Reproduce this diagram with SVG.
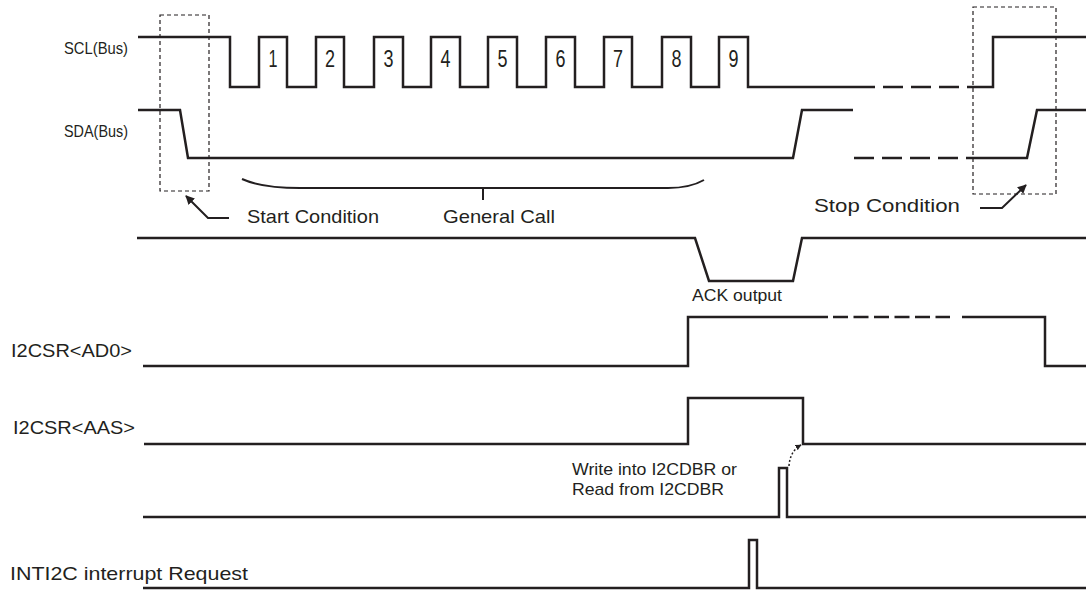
<svg xmlns="http://www.w3.org/2000/svg" width="1086" height="590" viewBox="0 0 1086 590">
<style>
.sig{fill:none;stroke:#231f20;stroke-width:2.5;stroke-linejoin:miter}
.dash{fill:none;stroke:#231f20;stroke-width:2.5;stroke-dasharray:20 8}
.dash2{fill:none;stroke:#231f20;stroke-width:2.5;stroke-dasharray:15 5.5}
.box{fill:none;stroke:#231f20;stroke-width:1.2;stroke-dasharray:4 3}
.thin{fill:none;stroke:#231f20;stroke-width:2}
.dot{fill:none;stroke:#231f20;stroke-width:1.5;stroke-dasharray:2 2}
text{font-family:"Liberation Sans",Arial,sans-serif;fill:#231f20}
.num{font-size:23px;text-anchor:middle}
.cond{font-size:17px}
.lbl{font-size:19px}
.sm{font-size:17px}
</style>
<defs>
<marker id="ah" viewBox="0 0 10 10" refX="9" refY="5" markerWidth="9" markerHeight="9" markerUnits="userSpaceOnUse" orient="auto">
<path d="M0,0 L10,5 L0,10 Z" fill="#231f20"/>
</marker>
<marker id="ahs" viewBox="0 0 10 10" refX="9" refY="5" markerWidth="6" markerHeight="6" markerUnits="userSpaceOnUse" orient="auto">
<path d="M0,0 L10,5 L0,10 Z" fill="#231f20"/>
</marker>
</defs>
<g id="labels">
<text class="cond" x="64" y="54" textLength="64" lengthAdjust="spacingAndGlyphs">SCL(Bus)</text>
<text class="cond" x="64" y="137" textLength="64" lengthAdjust="spacingAndGlyphs">SDA(Bus)</text>
<text class="lbl" x="11" y="357" textLength="121" lengthAdjust="spacingAndGlyphs">I2CSR&lt;AD0&gt;</text>
<text class="lbl" x="13" y="434" textLength="122" lengthAdjust="spacingAndGlyphs">I2CSR&lt;AAS&gt;</text>
<text class="lbl" x="10" y="580" font-size="21" textLength="238" lengthAdjust="spacingAndGlyphs">INTI2C interrupt Request</text>
</g>
<g id="scl">
<path class="sig" d="M138,37 H230 V87 H259 V37 H287 V87 H316 V37 H344 V87 H374 V37 H403 V87 H431 V37 H460 V87 H488 V37 H517 V87 H546 V37 H575 V87 H604 V37 H632 V87 H662 V37 H691 V87 H719 V37 H748 V87 H855"/>
<path class="dash" d="M855,87 H973"/>
<path class="sig" d="M973,87 H993 V37 H1086"/>
<text class="num" x="273" y="67" textLength="9" lengthAdjust="spacingAndGlyphs">1</text>
<text class="num" x="330" y="67" textLength="10" lengthAdjust="spacingAndGlyphs">2</text>
<text class="num" x="388.5" y="67" textLength="10" lengthAdjust="spacingAndGlyphs">3</text>
<text class="num" x="445.5" y="67" textLength="10" lengthAdjust="spacingAndGlyphs">4</text>
<text class="num" x="502.5" y="67" textLength="10" lengthAdjust="spacingAndGlyphs">5</text>
<text class="num" x="560.5" y="67" textLength="10" lengthAdjust="spacingAndGlyphs">6</text>
<text class="num" x="618" y="67" textLength="10" lengthAdjust="spacingAndGlyphs">7</text>
<text class="num" x="676.5" y="67" textLength="10" lengthAdjust="spacingAndGlyphs">8</text>
<text class="num" x="733.5" y="67" textLength="10" lengthAdjust="spacingAndGlyphs">9</text>
</g>
<g id="sda">
<path class="sig" d="M138,110 H180 L188,158 H793 L802,110 H853"/>
<path class="dash" d="M854,158 H973"/>
<path class="sig" d="M973,158 H1027 L1037,110 H1086"/>
</g>
<g id="start-condition">
<rect class="box" x="160" y="15" width="49" height="176"/>
<text class="lbl" x="247" y="223" textLength="132" lengthAdjust="spacingAndGlyphs">Start Condition</text>
</g>
<g id="general-call">
<path class="thin" d="M242,179 Q262,188 300,188 H668 Q690,188 704,180 M483,188 V200"/>
<text class="lbl" x="443" y="223" textLength="112" lengthAdjust="spacingAndGlyphs">General Call</text>
</g>
<g id="stop-condition">
<rect class="box" x="973" y="7" width="83" height="187"/>
<text class="lbl" x="814" y="212" font-size="22" textLength="146" lengthAdjust="spacingAndGlyphs">Stop Condition</text>
</g>
<g id="ack">
<path class="sig" d="M137,238 H695 L709,281 H793 L802,238 H1086"/>
<text class="sm" x="692" y="301" textLength="90" lengthAdjust="spacingAndGlyphs">ACK output</text>
</g>
<g id="ad0">
<path class="sig" d="M143,366 H688 V317 H828"/>
<path class="dash2" d="M833,317 H950"/>
<path class="sig" d="M962,317 H1045 V366 H1086"/>
</g>
<g id="aas">
<path class="sig" d="M144,444 H688 V398 H803 V444 H1086"/>
</g>
<g id="dbr">
<path class="sig" d="M143,517 H779 V468 H787 V517 H1086"/>
<text class="sm" x="572" y="475" textLength="165" lengthAdjust="spacingAndGlyphs">Write into I2CDBR or</text>
<text class="sm" x="572" y="495" textLength="152" lengthAdjust="spacingAndGlyphs">Read from I2CDBR</text>
</g>
<g id="inti2c">
<path class="sig" d="M143,588 H749 V540 H757 V588 H1086"/>
</g>
<g id="connectors">
<path class="thin" d="M229,218 H208 L186,196" marker-end="url(#ah)"/>
<path class="thin" d="M980,208 H1002 L1026,185" marker-end="url(#ah)"/>
<path class="dot" d="M789,466 Q790,451 801,445" marker-end="url(#ahs)"/>
</g>
</svg>
